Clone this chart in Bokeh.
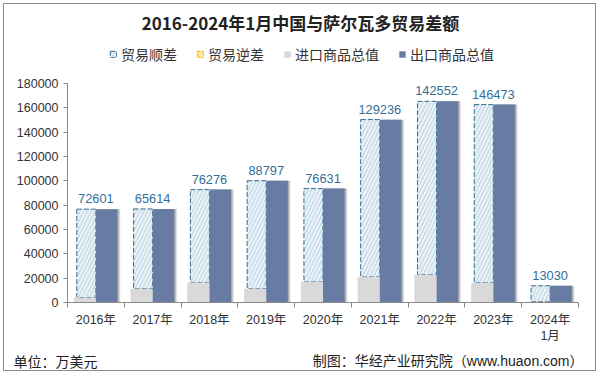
from bokeh.plotting import figure
from bokeh.layouts import column
from bokeh.models import (ColumnDataSource, Range1d, FixedTicker, Label, LabelSet,
                          Legend, LegendItem, NumeralTickFormatter)
from bokeh.transform import dodge, stack
from bokeh.core.properties import value
from bokeh.embed import file_html
from bokeh.resources import INLINE

# ---- data ----
years = ["2016年", "2017年", "2018年", "2019年", "2020年", "2021年", "2022年", "2023年", "2024年\n1月"]
surplus = [72601, 65614, 76276, 88797, 76631, 129236, 142552, 146473, 13030]
imports = [4100, 11300, 16500, 11300, 17000, 21100, 22800, 16200, 700]
exports = [76700, 76900, 92800, 100100, 93600, 150300, 165400, 162700, 13700]
y_ticks = [0, 20000, 40000, 60000, 80000, 100000, 120000, 140000, 160000, 180000]
series_names = ["贸易顺差", "贸易逆差", "进口商品总值", "出口商品总值"]

title_text = "2016-2024年1月中国与萨尔瓦多贸易差额"
unit_text = "单位：万美元"
source_text = "制图：华经产业研究院（www.huaon.com）"

FONT = "Liberation Sans, Noto Sans CJK SC"
CJK = "Noto Sans CJK SC"

# styles
HATCH = dict(fill_color="white", hatch_pattern="/", hatch_color="#C9DCE8", hatch_weight=2.2,
             hatch_scale=7.5, line_color="#2F6D94", line_dash="5 2", line_width=1)
DEF = dict(fill_color="white", hatch_pattern="/", hatch_color="#FFE08A", hatch_weight=2,
           hatch_scale=5, line_color="#F5B800", line_dash="3 1", line_width=1)
IMP = dict(fill_color="#D9D9D9", line_color=None)
EXP = dict(fill_color="#687BA3", line_color=None)

W = 591
H1, H2, H3 = 68, 276, 22

n = len(years)
idx = list(range(n))
src = ColumnDataSource(dict(x=idx, imp=imports, sur=surplus, exp=exports,
                            lab=[str(v) for v in surplus]))


def blank(h):
    f = figure(width=W, height=h, output_backend="svg", toolbar_location=None,
               x_range=Range1d(0, 1), y_range=Range1d(0, 1),
               x_axis_type=None, y_axis_type=None, min_border=0)
    f.grid.visible = False
    f.outline_line_color = None
    f.background_fill_color = "white"
    f.border_fill_color = "white"
    f.frame_align = False
    return f


# ---- header: title + legend ----
head = blank(H1)
head.add_layout(Label(x=296, y=50, x_units="screen", y_units="screen", text=title_text,
                      text_align="center", text_baseline="middle", text_font=CJK,
                      text_font_size="17px", text_font_style="bold", text_color="#222222"))
# legend swatches: one off-screen point each so the legend draws its icon
hr = [head.vbar(x=[-5], top=[-5], bottom=[-6], width=0.1, **st) for st in (HATCH, DEF, IMP, EXP)]
legend = Legend(items=[LegendItem(label=nm, renderers=[r]) for nm, r in zip(series_names, hr)],
                orientation="horizontal", location=(105, 8), padding=0, margin=0,
                border_line_color=None, background_fill_alpha=0,
                glyph_width=8, glyph_height=8, label_standoff=4, spacing=19,
                label_text_font=CJK, label_text_font_size="14px",
                label_text_color="#333333", label_height=18)
head.add_layout(legend)

# ---- main chart ----
p = figure(width=W, height=H2, output_backend="svg", toolbar_location=None,
           x_range=Range1d(-0.5, n - 0.5), y_range=Range1d(0, 180000),
           min_border_left=63, min_border_right=17, min_border_top=11, min_border_bottom=46)
p.frame_align = False
p.grid.visible = False
p.outline_line_color = None
p.background_fill_color = "white"
p.border_fill_color = "white"

p.xaxis.ticker = FixedTicker(ticks=idx, minor_ticks=[i - 0.5 for i in range(n + 1)])
p.xaxis.major_label_overrides = {i: years[i] for i in idx}
p.xaxis.major_tick_line_color = None
p.xaxis.major_tick_out = 0
p.xaxis.minor_tick_out = 5
p.xaxis.minor_tick_in = 0
p.xaxis.minor_tick_line_color = "#8a8a8a"
p.xaxis.axis_line_color = "#8a8a8a"
p.xaxis.major_label_standoff = 5
p.xaxis.major_label_text_font = FONT
p.xaxis.major_label_text_font_size = "12.5px"
p.xaxis.major_label_text_color = "#333333"

p.yaxis.ticker = FixedTicker(ticks=y_ticks)
p.yaxis.formatter = NumeralTickFormatter(format="0")
p.yaxis.major_tick_out = 4
p.yaxis.major_tick_in = 0
p.yaxis.minor_tick_line_color = None
p.yaxis.major_tick_line_color = "#8a8a8a"
p.yaxis.axis_line_color = "#8a8a8a"
p.yaxis.major_label_standoff = 5
p.yaxis.major_label_text_font = FONT
p.yaxis.major_label_text_font_size = "12.5px"
p.yaxis.major_label_text_color = "#333333"

p.vbar(x=dodge("x", -0.168), bottom="imp", top=stack("imp", "sur"), width=0.336,
       source=src, **HATCH)
p.vbar(x=dodge("x", -0.195), top="imp", bottom=0, width=0.39, source=src, **IMP)
for off, a in [(0.05, 0.10), (0.035, 0.12), (0.02, 0.15)]:
    p.vbar(x=dodge("x", 0.19 + off), top="exp", bottom=0, width=0.38, source=src,
           fill_color="#000000", fill_alpha=a, line_color=None)
p.vbar(x=dodge("x", 0.19), top="exp", bottom=0, width=0.38, source=src, **EXP)

p.add_layout(LabelSet(x="x", y=stack("imp", "sur"), text="lab", source=src, text_align="center",
                      text_baseline="bottom", y_offset=6, text_font=value(FONT),
                      text_font_size="12.8px", text_color="#336E98"))

# ---- footer ----
foot = blank(H3)
foot.add_layout(Label(x=9, y=10, x_units="screen", y_units="screen", text=unit_text,
                      text_align="left", text_baseline="middle", text_font=CJK,
                      text_font_size="14px", text_color="#222222"))
foot.add_layout(Label(x=579, y=10, x_units="screen", y_units="screen", text=source_text,
                      text_align="right", text_baseline="middle", text_font=FONT,
                      text_font_size="14px", text_color="#222222"))

page = column(head, p, foot, spacing=0,
              styles={"border": "1px solid #8C8C8C", "margin": "3px"})

open("out.html", "w").write(file_html(page, INLINE))
